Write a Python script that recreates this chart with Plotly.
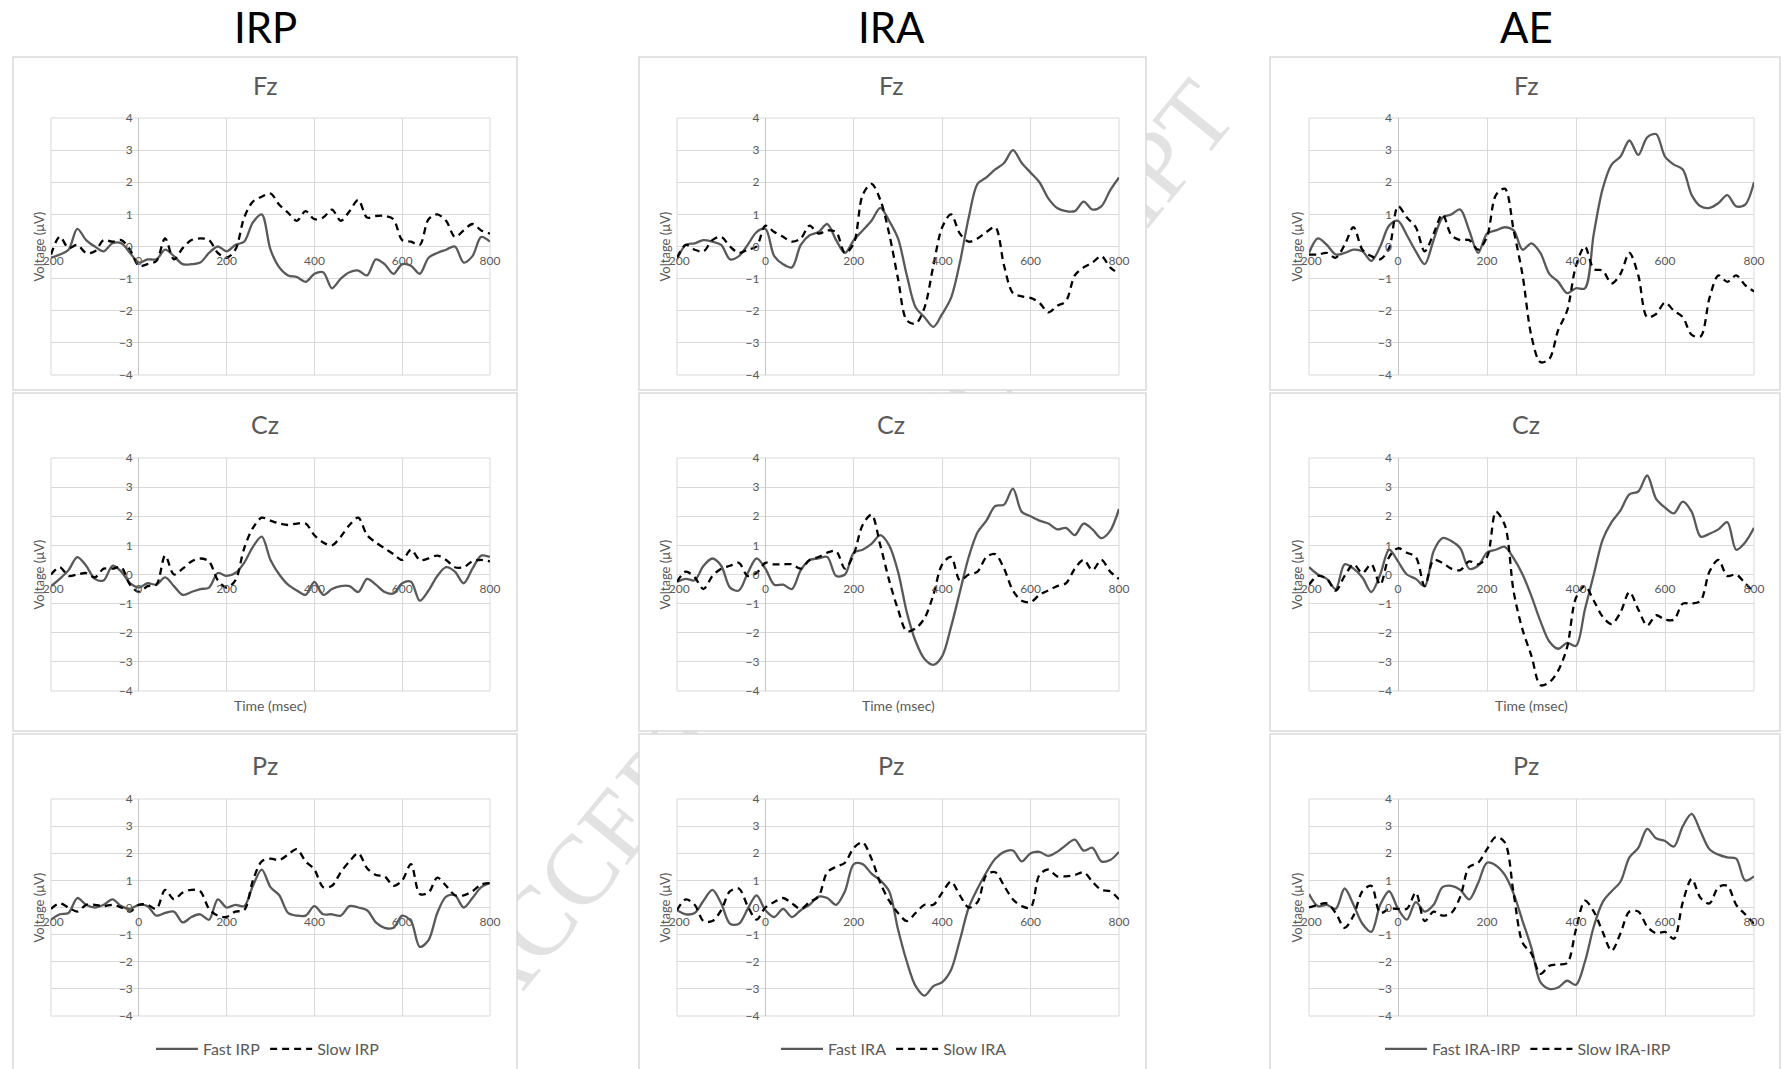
import plotly.graph_objects as go

W, H = 1785, 1069

time_ms = [-200, -180, -160, -140, -120, -100, -80, -60, -40, -20,
           0, 20, 40, 60, 80, 100, 120, 140, 160, 180,
           200, 220, 240, 260, 280, 300, 320, 340, 360, 380,
           400, 420, 440, 460, 480, 500, 520, 540, 560, 580,
           600, 620, 640, 660, 680, 700, 720, 740, 760, 780, 800]

# IRP
irp_fz_fast = [-0.35, -0.25, -0.1, 0.55, 0.2, 0.0, -0.15, 0.1, 0.1, -0.2,
               -0.5, -0.4, -0.4, -0.1, -0.3, -0.55, -0.55, -0.5, -0.2, 0.0,
               -0.15, 0.05, 0.15, 0.75, 1.0, -0.1, -0.65, -0.9, -0.95, -1.1,
               -0.85, -0.8, -1.3, -1.0, -0.8, -0.75, -0.9, -0.4, -0.55, -0.85,
               -0.55, -0.6, -0.85, -0.35, -0.2, -0.1, 0.0, -0.5, -0.3, 0.3, 0.15]
irp_fz_slow = [-0.25, 0.3, -0.05, 0.05, -0.2, -0.15, 0.2, 0.15, 0.2, -0.1,
               -0.6, -0.55, -0.45, 0.25, -0.4, -0.05, 0.2, 0.25, 0.2, -0.2,
               -0.35, -0.1, 0.9, 1.4, 1.55, 1.65, 1.3, 1.05, 0.8, 1.1,
               0.85, 0.9, 1.15, 0.8, 1.1, 1.45, 0.9, 0.95, 0.95, 0.85,
               0.2, 0.15, 0.05, 0.85, 1.0, 0.8, 0.3, 0.5, 0.7, 0.5, 0.4]
irp_cz_fast = [-0.4, -0.15, 0.15, 0.6, 0.3, -0.15, -0.2, 0.3, 0.1, -0.3,
               -0.45, -0.3, -0.35, -0.1, -0.4, -0.7, -0.6, -0.5, -0.45, 0.05,
               -0.05, 0.05, 0.4, 0.95, 1.3, 0.5, 0.0, -0.35, -0.55, -0.7,
               -0.25, -0.7, -0.5, -0.4, -0.4, -0.6, -0.15, -0.35, -0.6, -0.65,
               -0.3, -0.25, -0.9, -0.55, -0.05, 0.25, 0.1, -0.3, 0.2, 0.65, 0.6]
irp_cz_slow = [0.0, 0.25, -0.05, 0.0, 0.05, -0.1, 0.2, 0.2, 0.25, -0.35,
               -0.6, -0.4, -0.35, 0.65, 0.0, 0.2, 0.45, 0.55, 0.45, -0.2,
               -0.45, -0.2, 0.9, 1.6, 1.95, 1.85, 1.75, 1.7, 1.75, 1.75,
               1.35, 1.1, 1.0, 1.3, 1.7, 1.95, 1.35, 1.1, 0.9, 0.7,
               0.5, 0.85, 0.5, 0.55, 0.65, 0.5, 0.25, 0.25, 0.45, 0.5, 0.45]
irp_pz_fast = [-0.45, -0.25, -0.2, 0.35, 0.1, 0.0, 0.1, 0.3, 0.05, -0.05,
               0.1, 0.05, -0.3, -0.2, -0.15, -0.55, -0.35, -0.25, -0.45, 0.3,
               0.0, 0.1, 0.05, 0.8, 1.4, 0.75, 0.45, -0.2, -0.3, -0.3,
               0.05, -0.25, -0.25, -0.3, 0.05, 0.0, -0.1, -0.55, -0.75, -0.75,
               -0.3, -0.5, -1.45, -1.2, -0.2, 0.4, 0.45, 0.0, 0.35, 0.75, 0.9]
irp_pz_slow = [-0.05, 0.15, 0.0, -0.15, 0.1, 0.1, 0.05, 0.1, 0.0, -0.15,
               0.1, 0.1, -0.05, 0.65, 0.3, 0.55, 0.65, 0.6, -0.05, -0.3,
               -0.35, -0.15, -0.1, 1.0, 1.7, 1.8, 1.75, 1.95, 2.15, 1.7,
               1.4, 0.75, 0.8, 1.3, 1.7, 2.0, 1.45, 1.2, 1.15, 0.8,
               1.0, 1.6, 0.5, 0.55, 1.1, 0.8, 0.45, 0.45, 0.6, 0.85, 0.9]

# IRA
ira_fz_fast = [-0.4, 0.05, 0.1, 0.2, 0.15, 0.05, -0.4, -0.3, 0.05, 0.45,
               0.55, -0.3, -0.55, -0.65, 0.05, 0.35, 0.45, 0.7, 0.2, -0.2,
               0.2, 0.5, 0.8, 1.2, 0.8, 0.25, -0.9, -1.9, -2.2, -2.5,
               -2.1, -1.6, -0.5, 0.9, 1.95, 2.15, 2.4, 2.6, 3.0, 2.6,
               2.3, 2.0, 1.5, 1.2, 1.1, 1.1, 1.4, 1.15, 1.25, 1.75, 2.15]
ira_fz_slow = [-0.35, 0.05, -0.1, -0.15, 0.2, 0.3, 0.0, -0.2, -0.1, 0.0,
               0.65, 0.45, 0.3, 0.15, 0.25, 0.65, 0.4, 0.5, 0.45, -0.2,
               0.1, 1.6, 1.95, 1.45, 0.4, -1.0, -2.3, -2.4, -1.9, -0.6,
               0.6, 1.0, 0.4, 0.15, 0.25, 0.45, 0.6, -0.6, -1.45, -1.55,
               -1.6, -1.75, -2.05, -1.85, -1.7, -0.9, -0.65, -0.5, -0.3, -0.65, -0.85]
ira_cz_fast = [-0.25, -0.15, -0.2, 0.3, 0.55, 0.3, -0.45, -0.55, 0.05, 0.55,
               0.2, -0.35, -0.35, -0.5, 0.15, 0.5, 0.55, 0.6, -0.05, 0.0,
               0.75, 0.85, 1.05, 1.35, 1.0, 0.1, -1.3, -2.3, -2.9, -3.1,
               -2.8, -1.8, -0.6, 0.6, 1.45, 1.85, 2.35, 2.4, 2.95, 2.15,
               2.0, 1.85, 1.75, 1.55, 1.6, 1.35, 1.75, 1.55, 1.25, 1.5, 2.25]
ira_cz_slow = [-0.25, 0.1, -0.1, -0.5, -0.05, 0.2, 0.3, 0.4, -0.05, 0.05,
               0.4, 0.35, 0.35, 0.35, 0.2, 0.5, 0.6, 0.75, 0.8, 0.2,
               0.7, 1.7, 2.05, 1.0, -0.2, -1.2, -1.95, -1.85, -1.5, -0.7,
               0.35, 0.6, -0.2, 0.0, 0.1, 0.6, 0.7, 0.2, -0.55, -0.9,
               -0.95, -0.7, -0.55, -0.4, -0.3, 0.2, 0.5, 0.15, 0.5, 0.1, -0.15]
ira_pz_fast = [-0.1, -0.25, -0.2, 0.25, 0.65, 0.15, -0.6, -0.6, -0.05, 0.45,
               -0.1, -0.35, -0.05, -0.35, -0.1, 0.1, 0.4, 0.35, 0.1, 0.6,
               1.6, 1.6, 1.25, 1.0, 0.6, -0.8, -2.0, -2.9, -3.25, -2.9,
               -2.75, -2.3, -1.2, 0.0, 0.7, 1.3, 1.8, 2.05, 2.1, 1.7,
               2.0, 2.05, 1.9, 2.05, 2.3, 2.5, 2.1, 2.2, 1.7, 1.75, 2.05]
ira_pz_slow = [-0.1, 0.3, 0.1, -0.5, -0.5, -0.1, 0.6, 0.7, 0.05, -0.45,
               0.0, 0.2, 0.35, 0.15, -0.05, 0.2, 0.4, 1.3, 1.5, 1.65,
               2.2, 2.4, 1.8, 0.9, 0.25, -0.2, -0.5, -0.2, 0.1, 0.1,
               0.55, 0.95, 0.45, 0.0, 0.2, 1.2, 1.3, 0.8, 0.3, 0.05,
               0.0, 1.2, 1.4, 1.15, 1.15, 1.2, 1.3, 0.95, 0.65, 0.6, 0.3]

# AE (IRA-IRP)
ae_fz_fast = [-0.2, 0.25, 0.05, -0.25, -0.2, -0.1, -0.15, -0.45, 0.0, 0.65,
              0.8, 0.35, -0.15, -0.55, 0.2, 0.9, 1.0, 1.15, 0.5, -0.2,
              0.4, 0.5, 0.6, 0.5, -0.1, 0.1, -0.2, -0.85, -1.1, -1.45,
              -1.3, -1.3, 0.4, 1.8, 2.55, 2.8, 3.3, 2.85, 3.4, 3.5,
              2.8, 2.55, 2.4, 1.6, 1.25, 1.2, 1.35, 1.6, 1.25, 1.3, 2.0]
ae_fz_slow = [-0.25, -0.25, -0.2, -0.35, 0.05, 0.6, -0.1, -0.3, -0.4, -0.05,
              1.25, 0.9, 0.6, -0.15, 0.4, 1.0, 0.35, 0.2, 0.2, -0.1,
              0.3, 1.6, 1.8, 0.5, -0.9, -2.8, -3.6, -3.5, -2.6, -2.0,
              -0.6, 0.0, -0.7, -0.75, -1.15, -0.85, -0.2, -0.9, -2.2, -2.1,
              -1.75, -2.0, -2.2, -2.75, -2.8, -1.6, -0.9, -1.1, -0.9, -1.2, -1.4]
ae_cz_fast = [0.25, 0.0, -0.15, -0.5, 0.35, 0.2, -0.1, -0.6, 0.0, 0.85,
              0.45, 0.0, -0.15, -0.4, 0.8, 1.25, 1.15, 0.9, 0.2, 0.3,
              0.75, 0.85, 0.95, 0.55, 0.0, -0.75, -1.6, -2.3, -2.55, -2.35,
              -2.45, -1.2, 0.0, 1.2, 1.8, 2.2, 2.75, 2.85, 3.4, 2.6,
              2.3, 2.1, 2.5, 2.15, 1.3, 1.4, 1.55, 1.8, 0.85, 1.1, 1.6]
ae_cz_slow = [-0.35, -0.05, -0.15, -0.55, -0.05, 0.35, 0.05, 0.35, -0.35, 0.6,
              0.9, 0.75, 0.6, -0.4, 0.5, 0.4, 0.2, 0.15, 0.45, 0.35,
              0.6, 2.15, 1.7, -0.6, -1.9, -2.8, -3.8, -3.7, -3.3, -2.5,
              -0.8, -0.4, -0.9, -1.45, -1.7, -1.3, -0.6, -1.2, -1.75, -1.4,
              -1.55, -1.55, -1.0, -1.0, -0.9, 0.1, 0.5, -0.05, 0.0, -0.3, -0.6]
ae_pz_fast = [0.5, 0.05, 0.1, -0.05, 0.7, 0.1, -0.6, -0.9, 0.1, 0.6,
              -0.05, -0.45, 0.2, -0.15, 0.1, 0.75, 0.8, 0.65, 0.3, 0.9,
              1.65, 1.55, 1.2, 0.5, -0.5, -1.5, -2.75, -3.0, -2.95, -2.7,
              -2.85, -2.0, -0.7, 0.2, 0.6, 0.95, 1.85, 2.2, 2.9, 2.55,
              2.45, 2.25, 3.0, 3.45, 2.8, 2.15, 1.95, 1.85, 1.8, 1.0, 1.15]
ae_pz_slow = [0.0, 0.1, 0.15, -0.2, -0.75, -0.3, 0.6, 0.8, -0.2, -0.05,
              -0.05, -0.05, 0.55, -0.5, -0.15, -0.3, -0.2, 0.4, 1.5, 1.65,
              2.15, 2.6, 2.4, 0.5, -1.3, -1.7, -2.45, -2.15, -2.1, -2.05,
              -0.8, 0.25, -0.15, -0.9, -1.6, -0.95, -0.15, -0.15, -0.7, -0.95,
              -0.9, -1.15, 0.2, 1.05, 0.35, 0.15, 0.75, 0.8, 0.1, -0.25, -0.6]

column_titles = ["IRP", "IRA", "AE"]
electrodes = ["Fz", "Cz", "Pz"]
fast_names = ["Fast IRP", "Fast IRA", "Fast IRA-IRP"]
slow_names = ["Slow IRP", "Slow IRA", "Slow IRA-IRP"]
x_ticks = [-200, 0, 200, 400, 600, 800]
y_ticks = [-4, -3, -2, -1, 0, 1, 2, 3, 4]

series = [
    [(irp_fz_fast, irp_fz_slow), (ira_fz_fast, ira_fz_slow), (ae_fz_fast, ae_fz_slow)],
    [(irp_cz_fast, irp_cz_slow), (ira_cz_fast, ira_cz_slow), (ae_cz_fast, ae_cz_slow)],
    [(irp_pz_fast, irp_pz_slow), (ira_pz_fast, ira_pz_slow), (ae_pz_fast, ae_pz_slow)],
]

# pixel layout of the panels
col_plot = [(51, 490), (677, 1119), (1309, 1754)]
row_plot = [(118, 375), (458, 691), (799, 1016)]
col_frame = [(13, 517), (639, 1146), (1270, 1780)]
row_frame = [(57, 390), (393, 731), (734, 1080)]
col_title_x = [265, 891, 1526]
row_title_y = [85, 424, 765]

GREY = "#595959"
GRID = "#d9d9d9"
FONT = "Lato, Open Sans, sans-serif"


def px(x):
    return x / W


def py(y):
    return 1 - y / H


fig = go.Figure()
shapes = []
annotations = []
layout = {}

# faint watermark, hidden behind the panels
shapes.append(dict(
    type="line", xref="paper", yref="paper", layer="below",
    x0=px(455), y0=py(1005), x1=px(1212), y1=py(80),
    line=dict(width=0, color="rgba(0,0,0,0)"),
    label=dict(text="ACCEPTED MANUSCRIPT", textposition="middle", yanchor="middle",
               font=dict(family="Liberation Serif, DejaVu Serif, serif", size=99, color="#e2e2e2")),
))

for r in range(3):
    for c in range(3):
        shapes.append(dict(
            type="rect", xref="paper", yref="paper", layer="below",
            x0=px(col_frame[c][0]), x1=px(col_frame[c][1]),
            y0=py(row_frame[r][1]), y1=py(row_frame[r][0]),
            fillcolor="white", line=dict(color=GRID, width=1.5),
        ))

for r in range(3):
    for c in range(3):
        idx = r * 3 + c + 1
        sfx = "" if idx == 1 else str(idx)
        x0, x1 = col_plot[c]
        y0, y1 = row_plot[r]
        fast, slow = series[r][c]
        leg = "legend" if c == 0 else f"legend{c + 1}"

        fig.add_trace(go.Scatter(
            x=time_ms, y=fast, mode="lines", name=fast_names[c],
            line=dict(color=GREY, width=2.3, shape="spline", smoothing=0.9),
            xaxis="x" + sfx, yaxis="y" + sfx, legend=leg, showlegend=(r == 2),
        ))
        fig.add_trace(go.Scatter(
            x=time_ms, y=slow, mode="lines", name=slow_names[c],
            line=dict(color="black", width=2.3, dash="7px,5px", shape="spline", smoothing=0.9),
            xaxis="x" + sfx, yaxis="y" + sfx, legend=leg, showlegend=(r == 2),
        ))

        zero_y = (y0 + y1) / 2
        zero_x = x0 + 0.2 * (x1 - x0)
        layout["xaxis" + sfx] = dict(
            domain=[px(x0), px(x1)], range=[-200, 800], anchor="free", position=py(zero_y),
            tickvals=x_ticks, ticktext=[str(v) for v in x_ticks], ticklabelstandoff=5,
            showgrid=True, gridcolor=GRID, gridwidth=1, automargin=False,
            zeroline=True, zerolinecolor="#c4c4c4", zerolinewidth=1,
            showline=False, ticks="", tickfont=dict(size=12, color=GREY, family=FONT),
        )
        layout["yaxis" + sfx] = dict(
            domain=[py(y1), py(y0)], range=[-4, 4], anchor="free", position=px(zero_x),
            tickvals=y_ticks, ticklabelstandoff=6, automargin=False,
            showgrid=True, gridcolor=GRID, gridwidth=1,
            zeroline=True, zerolinecolor=GRID, zerolinewidth=1,
            showline=False, ticks="", tickfont=dict(size=12, color=GREY, family=FONT),
        )
        shapes.append(dict(
            type="rect", xref=f"x{sfx} domain", yref=f"y{sfx} domain",
            x0=0, x1=1, y0=0, y1=1, line=dict(color=GRID, width=1), layer="below",
        ))

        annotations.append(dict(
            text=electrodes[r], x=px(col_title_x[c]), y=py(row_title_y[r]),
            xref="paper", yref="paper", showarrow=False, xanchor="center", yanchor="middle",
            font=dict(size=25, color=GREY, family=FONT),
        ))
        annotations.append(dict(
            text="Voltage (μV)", x=px(x0 - 3), y=py(zero_y),
            xref="paper", yref="paper", showarrow=False, xanchor="right", yanchor="middle",
            textangle=-90, font=dict(size=13, color=GREY, family=FONT),
        ))
        if r == 1:
            annotations.append(dict(
                text="Time (msec)", x=px((x0 + x1) / 2), y=py(705),
                xref="paper", yref="paper", showarrow=False, xanchor="center", yanchor="middle",
                font=dict(size=14, color=GREY, family=FONT),
            ))

for c in range(3):
    annotations.append(dict(
        text=column_titles[c], x=px(col_title_x[c]), y=py(27),
        xref="paper", yref="paper", showarrow=False, xanchor="center", yanchor="middle",
        font=dict(size=42, color="black", family=FONT),
    ))

legend_x = [268, 894, 1528]
for c in range(3):
    key = "legend" if c == 0 else f"legend{c + 1}"
    layout[key] = dict(
        orientation="h", x=px(legend_x[c]), xanchor="center", y=py(1049), yanchor="middle",
        font=dict(size=16, color=GREY, family=FONT), bgcolor="rgba(0,0,0,0)", itemwidth=42,
    )

fig.update_layout(
    width=W, height=H, margin=dict(l=0, r=0, t=0, b=0, autoexpand=False),
    paper_bgcolor="white", plot_bgcolor="rgba(0,0,0,0)",
    font=dict(family=FONT, color=GREY),
    shapes=shapes, annotations=annotations, **layout,
)

fig.write_html(
    "out.html",
    config={"displayModeBar": False},
    post_script="document.body.style.margin='0';document.body.style.overflow='hidden';",
)
